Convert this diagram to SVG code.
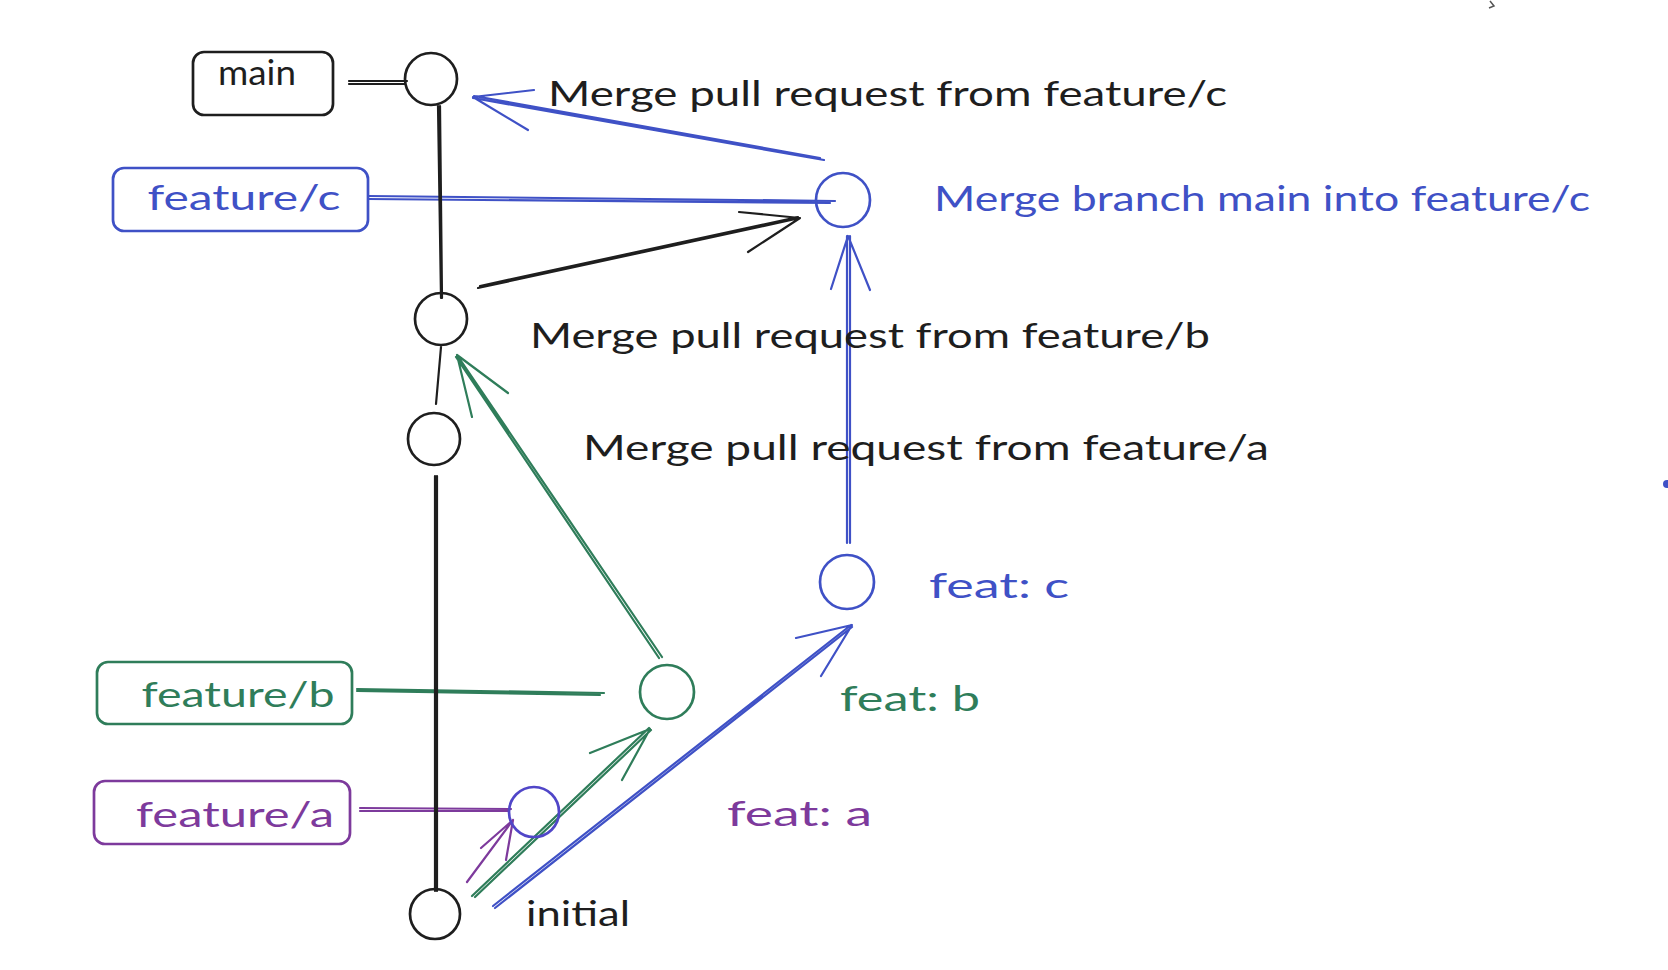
<svg xmlns="http://www.w3.org/2000/svg" width="1668" height="970" viewBox="0 0 1668 970">
<style>
.bk{stroke:#1e1e1e}.bl{stroke:#3f51c6}.gr{stroke:#2f7d5a}.pu{stroke:#7d3a9c}
.s{fill:none;stroke-width:2.2;stroke-linecap:round;stroke-linejoin:round}
circle.s,rect.s{stroke-width:2.7}
.t{font-family:Lato,"Noto Sans",sans-serif;font-size:34px}
.tb{fill:#1e1e1e}.tbl{fill:#3f51c6}.tgr{fill:#2f7d5a}.tpu{fill:#7d3a9c}
</style>
<rect width="1668" height="970" fill="#ffffff"/>
<g id="connectors">
  <path class="s bk" d="M349 81 L407 81 M349 84 L405 84"/>
  <path class="s bl" d="M368 196 L835 201 M368 199 L830 203"/>
  <path class="s gr" d="M357 689 L604 693 M357 691 L600 695"/>
  <path class="s pu" d="M360 808 L511 809 M360 811 L509 811"/>
  <path class="s bk" d="M438 106 L441 298 M440 106 L442 298"/>
  <path class="s bk" d="M441 347 L436 404"/>
  <path class="s bk" d="M435 476 L435 891 M437 476 L437 891"/>
  <path class="s bl" d="M824 160 L473 98 M820 158 L474 96 M534 90 L473 97 L528 130"/>
  <path class="s bk" d="M478 288 L800 218 M480 286 L798 217 M739 212 L800 218 L748 252"/>
  <path class="s bl" d="M847 543 L847 236 M850 543 L850 236 M831 289 L848 236 L870 290"/>
  <path class="s gr" d="M662 657 L457 355 M659 658 L456 357 M472 417 L457 355 L508 393"/>
  <path class="s gr" d="M472 896 L649 728 M475 897 L651 730 M590 753 L650 729 L622 780"/>
  <path class="s pu" d="M467 882 L513 820 M481 848 L513 820 L506 860"/>
  <path class="s bl" d="M493 906 L851 625 M495 908 L852 627 M796 638 L852 625 L821 676"/>
</g>
<g id="main-label">
  <rect class="s bk" x="193" y="52" width="140" height="63" rx="11"/>
  <text class="t tb" x="257" y="85" text-anchor="middle" font-size="28" textLength="78" lengthAdjust="spacingAndGlyphs">main</text>
</g>
<g id="feature-c-label">
  <rect class="s bl" x="113" y="168" width="255" height="63" rx="11"/>
  <text class="t tbl" x="244" y="210" text-anchor="middle" textLength="193" lengthAdjust="spacingAndGlyphs">feature/c</text>
</g>
<g id="feature-b-label">
  <rect class="s gr" x="97" y="662" width="255" height="62" rx="11"/>
  <text class="t tgr" x="238" y="707" text-anchor="middle" textLength="193" lengthAdjust="spacingAndGlyphs">feature/b</text>
</g>
<g id="feature-a-label">
  <rect class="s pu" x="94" y="781" width="256" height="63" rx="11"/>
  <text class="t tpu" x="235" y="827" text-anchor="middle" textLength="198" lengthAdjust="spacingAndGlyphs">feature/a</text>
</g>
<g id="commit-merge-c">
  <circle class="s bk" cx="431" cy="79" r="26"/>
  <text class="t tb" x="548" y="106" textLength="679" lengthAdjust="spacingAndGlyphs">Merge pull request from feature/c</text>
</g>
<g id="commit-main-into-c">
  <circle class="s bl" cx="843" cy="200" r="27"/>
  <text class="t tbl" x="934" y="211" textLength="656" lengthAdjust="spacingAndGlyphs">Merge branch main into feature/c</text>
</g>
<g id="commit-merge-b">
  <circle class="s bk" cx="441" cy="319" r="26"/>
  <text class="t tb" x="530" y="348" textLength="680" lengthAdjust="spacingAndGlyphs">Merge pull request from feature/b</text>
</g>
<g id="commit-merge-a">
  <circle class="s bk" cx="434" cy="439" r="26"/>
  <text class="t tb" x="583" y="460" textLength="686" lengthAdjust="spacingAndGlyphs">Merge pull request from feature/a</text>
</g>
<g id="commit-feat-c">
  <circle class="s bl" cx="847" cy="582" r="27"/>
  <text class="t tbl" x="929" y="598" textLength="140" lengthAdjust="spacingAndGlyphs">feat: c</text>
</g>
<g id="commit-feat-b">
  <circle class="s gr" cx="667" cy="692" r="27"/>
  <text class="t tgr" x="840" y="711" textLength="140" lengthAdjust="spacingAndGlyphs">feat: b</text>
</g>
<g id="commit-feat-a">
  <circle class="s" stroke="#5046c8" cx="534" cy="812" r="25"/>
  <text class="t tpu" x="727" y="826" textLength="145" lengthAdjust="spacingAndGlyphs">feat: a</text>
</g>
<g id="commit-initial">
  <circle class="s bk" cx="435" cy="914" r="25"/>
  <text class="t tb" x="526" y="926" font-size="32" textLength="104" lengthAdjust="spacingAndGlyphs">initial</text>
</g>
<path d="M1490 1 L1494 6 L1489 8" fill="none" stroke="#555" stroke-width="1.5"/>
<circle cx="1667" cy="484" r="4" fill="#3f51c6"/>
</svg>
